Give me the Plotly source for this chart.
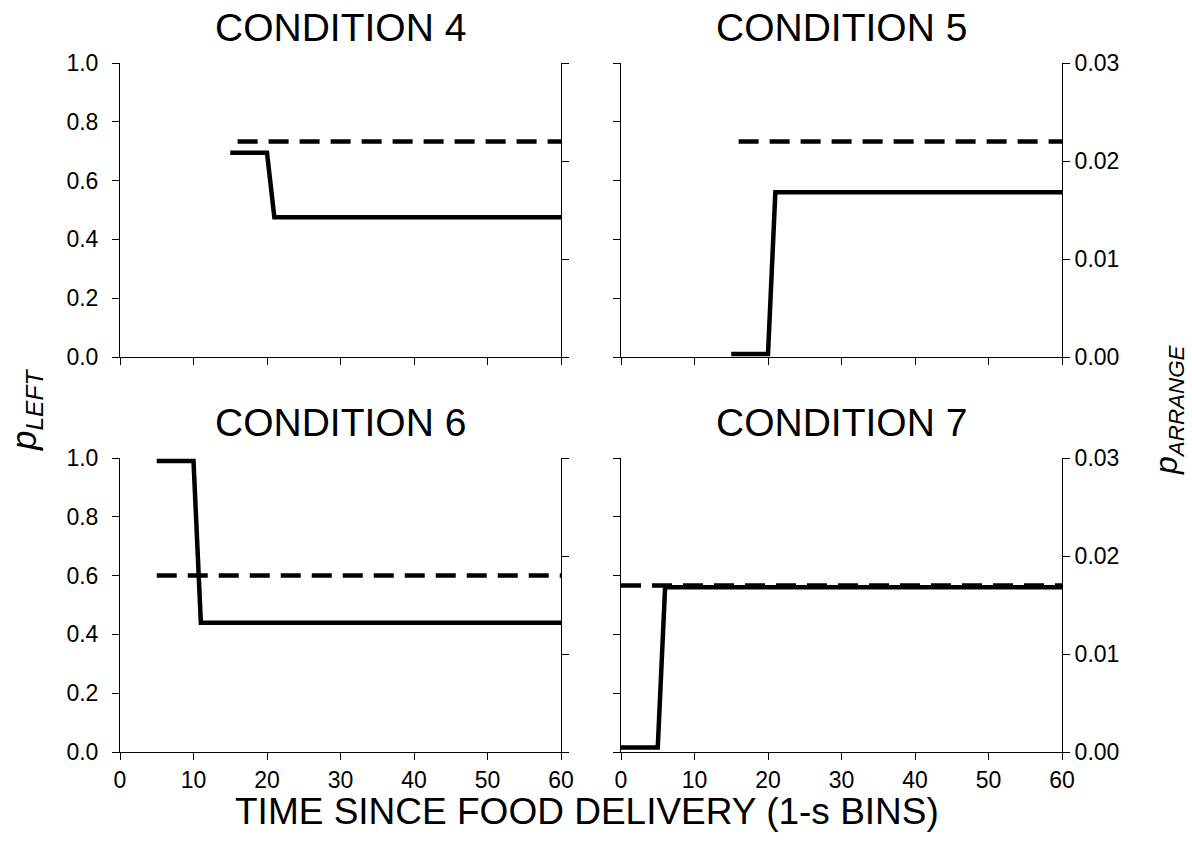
import plotly.graph_objects as go

# Time axis (1-s bins) and tick values
x_ticks = [0, 10, 20, 30, 40, 50, 60]
left_ticks = [0.0, 0.2, 0.4, 0.6, 0.8, 1.0]
right_ticks = [0.00, 0.01, 0.02, 0.03]

conditions = ["CONDITION 4", "CONDITION 5", "CONDITION 6", "CONDITION 7"]

# p(LEFT) per condition: vertices of the step function (time, proportion)
pleft_c4_t = [15, 20, 21, 60]
pleft_c4_v = [0.695, 0.695, 0.475, 0.475]
pleft_c5_t = [15, 20, 21, 60]
pleft_c5_v = [0.01, 0.01, 0.56, 0.56]
pleft_c6_t = [5, 10, 11, 60]
pleft_c6_v = [0.99, 0.99, 0.44, 0.44]
pleft_c7_t = [0, 5, 6, 60]
pleft_c7_v = [0.015, 0.015, 0.56, 0.56]

# p(ARRANGE) per condition (right axis): start and end of the constant line
parr_c4_t = [16, 60]
parr_c4_v = [0.022, 0.022]
parr_c5_t = [16, 60]
parr_c5_v = [0.022, 0.022]
parr_c6_t = [5, 60]
parr_c6_v = [0.018, 0.018]
parr_c7_t = [0, 60]
parr_c7_v = [0.017, 0.017]

pleft = [(pleft_c4_t, pleft_c4_v), (pleft_c5_t, pleft_c5_v),
         (pleft_c6_t, pleft_c6_v), (pleft_c7_t, pleft_c7_v)]
parr = [(parr_c4_t, parr_c4_v), (parr_c5_t, parr_c5_v),
        (parr_c6_t, parr_c6_v), (parr_c7_t, parr_c7_v)]

W, H = 1192, 854
FONT = "Liberation Sans, Arial, sans-serif"

# panel boxes in pixels: (left, right, top, bottom)
boxes = [(120, 561, 63, 357), (621, 1062, 63, 357),
         (120, 561, 458, 752), (621, 1062, 458, 752)]

fig = go.Figure()
layout = {}
annotations = []

axis_common = dict(
    automargin=False, showgrid=False, zeroline=False, showline=True,
    linecolor="black", linewidth=1, ticks="outside", ticklen=7, tickwidth=1,
    tickcolor="black", tickfont=dict(family=FONT, size=23, color="black"),
)

for i in range(4):
    l, r, t, b = boxes[i]
    xd = [l / W, r / W]
    yd = [1 - b / H, 1 - t / H]
    xn = f"x{2*i+1}" if i else "x"
    yl = f"y{2*i+1}" if i else "y"
    yr = f"y{2*i+2}"
    xkey = "xaxis" + (str(2*i+1) if i else "")
    ylkey = "yaxis" + (str(2*i+1) if i else "")
    yrkey = "yaxis" + str(2*i+2)

    bottom_row = i >= 2
    left_col = i % 2 == 0

    layout[xkey] = dict(axis_common, domain=xd, anchor=yl, range=[0, 60],
                        tickvals=x_ticks, showticklabels=bottom_row)
    layout[ylkey] = dict(axis_common, domain=yd, anchor=xn, range=[0, 1.0],
                         tickvals=left_ticks, tickformat=".1f",
                         showticklabels=left_col, ticklabelstandoff=9)
    layout[yrkey] = dict(axis_common, overlaying=yl, anchor=xn, side="right",
                         range=[0, 0.03], tickvals=right_ticks,
                         tickformat=".2f", showticklabels=not left_col)

    tx, tv = pleft[i]
    fig.add_trace(go.Scatter(x=tx, y=tv, xaxis=xn, yaxis=yl, mode="lines",
                             line=dict(color="black", width=4.5),
                             showlegend=False, hoverinfo="skip"))
    ax_, av_ = parr[i]
    fig.add_trace(go.Scatter(x=ax_, y=av_, xaxis=xn, yaxis=yr, mode="lines",
                             line=dict(color="black", width=4.5, dash="20px,11px"),
                             showlegend=False, hoverinfo="skip"))

    annotations.append(dict(
        text=conditions[i], x=(l + r) / 2 / W, y=1 - (t - 36) / H,
        xref="paper", yref="paper", showarrow=False, xanchor="center",
        yanchor="middle", font=dict(family=FONT, size=39, color="black")))

annotations += [
    dict(text="TIME SINCE FOOD DELIVERY (1-s BINS)", x=587 / W, y=1 - 811 / H,
         xref="paper", yref="paper", showarrow=False, xanchor="center",
         yanchor="middle", font=dict(family=FONT, size=37, color="black")),
    dict(text="<i>p</i><sub><i>LEFT</i></sub>", x=26 / W, y=1 - 410 / H,
         xref="paper", yref="paper", showarrow=False, textangle=-90,
         xanchor="center", yanchor="middle",
         font=dict(family=FONT, size=35, color="black")),
    dict(text="<i>p</i><sub><i>ARRANGE</i></sub>", x=1168 / W, y=1 - 410 / H,
         xref="paper", yref="paper", showarrow=False, textangle=-90,
         xanchor="center", yanchor="middle",
         font=dict(family=FONT, size=32, color="black")),
]

fig.update_layout(
    template="none",
    width=W, height=H, margin=dict(l=0, r=0, t=0, b=0, pad=0),
    paper_bgcolor="white", plot_bgcolor="white",
    font=dict(family=FONT, color="black"),
    annotations=annotations, **layout,
)

fig.write_html("out.html")
